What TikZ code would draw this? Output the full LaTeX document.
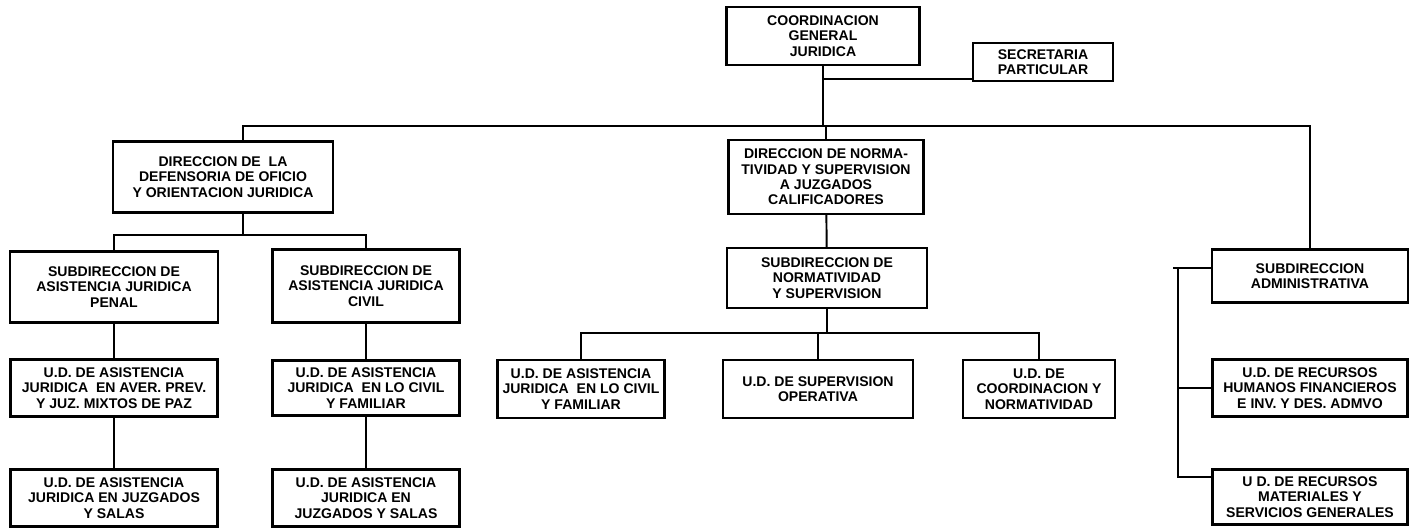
\documentclass[tikz,border=0pt]{standalone}
\usepackage{fontspec}
\setmainfont{Liberation Sans}
\usetikzlibrary{calc}

\begin{document}
\begin{tikzpicture}[
        x=0.02cm, y=-0.02cm,
        box/.style={rectangle, draw=black, line width=1.3pt, align=center,
                    inner sep=1pt, font=\fontsize{8}{8.7}\selectfont\bfseries},
        link/.style={line width=1.1pt, black}
    ]
        \useasboundingbox[fill=white] (0,0) rectangle (1416,529);

        % top level
        \node[box, minimum width=3.86cm, minimum height=1.16cm] (cgj) at (823,36) {COORDINACION\\GENERAL\\JURIDICA};
        \node[box, minimum width=2.8cm, minimum height=0.76cm] (sec) at (1043,62) {SECRETARIA\\PARTICULAR};

        % direcciones
        \node[box, minimum width=4.4cm, minimum height=1.42cm] (ddo) at (223,177) {DIRECCION DE \ LA\\DEFENSORIA DE OFICIO\\Y ORIENTACION JURIDICA};
        \node[box, minimum width=3.9cm, minimum height=1.48cm] (dns) at (826,177) {DIRECCION DE NORMA-\\TIVIDAD Y SUPERVISION\\A JUZGADOS\\CALIFICADORES};

        % subdirecciones
        \node[box, minimum width=4.16cm, minimum height=1.42cm] (spenal) at (114,287) {SUBDIRECCION DE\\ASISTENCIA JURIDICA\\PENAL};
        \node[box, minimum width=3.74cm, minimum height=1.46cm] (scivil) at (366,286) {SUBDIRECCION DE\\ASISTENCIA JURIDICA\\CIVIL};
        \node[box, minimum width=4.0cm, minimum height=1.2cm] (snv) at (827,278) {SUBDIRECCION DE\\NORMATIVIDAD\\Y SUPERVISION};
        \node[box, minimum width=3.92cm, minimum height=1.06cm] (sadm) at (1310,276) {SUBDIRECCION\\ADMINISTRATIVA};

        % unidades departamentales
        \node[box, minimum width=4.14cm, minimum height=1.14cm] (udp1) at (114,388) {U.D. DE ASISTENCIA\\JURIDICA \ EN AVER. PREV.\\Y JUZ. MIXTOS DE PAZ};
        \node[box, minimum width=4.14cm, minimum height=1.14cm] (udp2) at (114,498) {U.D. DE ASISTENCIA\\JURIDICA EN JUZGADOS\\Y SALAS};
        \node[box, minimum width=3.74cm, minimum height=1.1cm] (udc1) at (366,388) {U.D. DE ASISTENCIA\\JURIDICA \ EN LO CIVIL\\Y FAMILIAR};
        \node[box, minimum width=3.74cm, minimum height=1.14cm] (udc2) at (366,498) {U.D. DE ASISTENCIA\\JURIDICA EN\\JUZGADOS Y SALAS};
        \node[box, minimum width=3.34cm, minimum height=1.16cm] (uda) at (581,389) {U.D. DE ASISTENCIA\\JURIDICA \ EN LO CIVIL\\Y FAMILIAR};
        \node[box, minimum width=3.8cm, minimum height=1.16cm] (uds) at (818,389) {U.D. DE SUPERVISION\\OPERATIVA};
        \node[box, minimum width=3.04cm, minimum height=1.16cm] (udc) at (1039,389) {U.D. DE\\COORDINACION Y\\NORMATIVIDAD};
        \node[box, minimum width=3.9cm, minimum height=1.14cm] (udrh) at (1310,388) {U.D. DE RECURSOS\\HUMANOS FINANCIEROS\\E INV. Y DES. ADMVO};
        \node[box, minimum width=3.9cm, minimum height=1.1cm] (udrm) at (1310,497) {U D. DE RECURSOS\\MATERIALES Y\\SERVICIOS GENERALES};

        % buses
        \coordinate (bus) at (823,126);
        \coordinate (lbus) at (243,235);
        \coordinate (mbus) at (827,333);
        \coordinate (rbus) at (1178,268);
        \coordinate (secin) at ([yshift=0.06cm]sec.south west);

        \draw[link] (cgj.south) -- (cgj.south |- bus);
        \draw[link] (secin) -- (cgj.south |- secin);
        \draw[link] ([xshift=0.4cm]ddo.north) |- (sadm.north |- bus) -- (sadm.north);
        \draw[link] (dns.north) -- (dns.north |- bus);

        \draw[link] ([xshift=0.4cm]ddo.south) -- (lbus);
        \draw[link] (spenal.north) |- (scivil.north |- lbus) -- (scivil.north);
        \draw[link] (spenal) -- (udp1);
        \draw[link] (udp1) -- (udp2);
        \draw[link] (scivil) -- (udc1);
        \draw[link] (udc1) -- (udc2);

        \draw[link] (dns) -- (snv);
        \draw[link] (snv.south) -- (mbus);
        \draw[link] (uda.north) |- (udc.north |- mbus) -- (udc.north);
        \draw[link] (uds.north) -- (uds.north |- mbus);

        \draw[link] (sadm.west |- rbus) -- ([xshift=-0.1cm]rbus);
        \draw[link] (rbus) |- ([yshift=0.4cm]udrm.west);
        \draw[link] (rbus |- udrh.west) -- (udrh.west);
    \end{tikzpicture}
\end{document}
